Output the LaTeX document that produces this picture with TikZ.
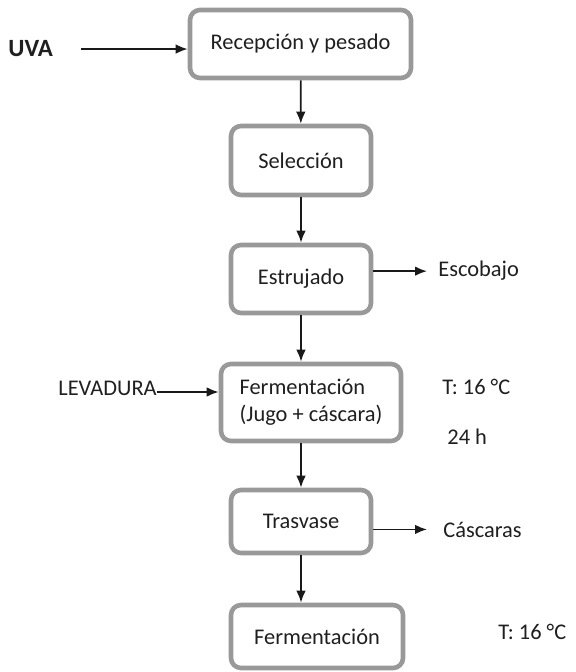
\documentclass[tikz,border=0pt]{standalone}
\usepackage{fontspec}
\setmainfont{Carlito}
\usepackage{tikz}
\usetikzlibrary{arrows.meta,positioning}
\tikzset{
  stage/.style={rectangle,rounded corners=5pt,draw=black!40,
    line width=2.3pt,fill=white,align=center,inner sep=0pt,
    text=black!88},
  flow/.style={-{Latex[length=6pt,width=4.8pt]},line width=.9pt,
    draw=black!90}}

\begin{document}
\begin{tikzpicture}[x=.5pt,y=-.5pt,
  font=\fontsize{11.2}{13.5}\selectfont,
  stream/.style={inner sep=0pt,text=black!88,anchor=base west}]

  \useasboundingbox (0,0) rectangle (576,672);

  \node[stage,minimum width=110.5pt,minimum height=34pt] (recep)
    at (300.5,44) {Recepción y pesado};
  \node[stage,minimum width=70pt,minimum height=34.5pt] (selec)
    at (301,160.5) {Selección};
  \node[stage,minimum width=70pt,minimum height=34pt] (estru)
    at (301,279) {Estrujado};
  \node[stage,minimum width=90pt,minimum height=38.5pt,align=left] (ferm)
    at (311,402.5) {Fermentación\\(Jugo + cáscara)};
  \node[stage,minimum width=70pt,minimum height=31.5pt] (trasv)
    at (301,521.5) {Trasvase};
  \node[stage,minimum width=86pt,minimum height=31.5pt] (fermb)
    at (317,636.5) {Fermentación};

  \node[stream,font=\fontsize{12.4}{14}\selectfont\bfseries] (uva)
    at (8,57) {UVA};
  \node[stream] (lev) at (58,395) {LEVADURA};
  \node[stream] (escob) at (438,277) {Escobajo};
  \node[stream] (tempa) at (442,394) {T: 16 °C};
  \node[stream] (time) at (447,444) {24 h};
  \node[stream] (casc) at (443,537) {Cáscaras};
  \node[stream] (tempb) at (498,639) {T: 16 °C};

  \draw[flow,shorten <=14pt] (uva) -- (uva -| recep.west);
  \draw[flow] (recep) -- (selec);
  \draw[flow] (selec) -- (estru);
  \draw[flow] (estru.south) -- (estru.south |- ferm.north);
  \draw[flow] (trasv.north |- ferm.south) -- (trasv.north);
  \draw[flow] (trasv.south) -- (trasv.south |- fermb.north);
  \draw[flow] ([yshift=1.5pt]lev.base east)
    -- ([yshift=1.5pt]lev.base east -| ferm.west);
  \draw[flow,shorten >=5.5pt] (escob.west -| estru.east) -- (escob.west);
  \draw[flow,shorten >=8pt] (casc.west -| trasv.east) -- (casc.west);
\end{tikzpicture}
\end{document}
